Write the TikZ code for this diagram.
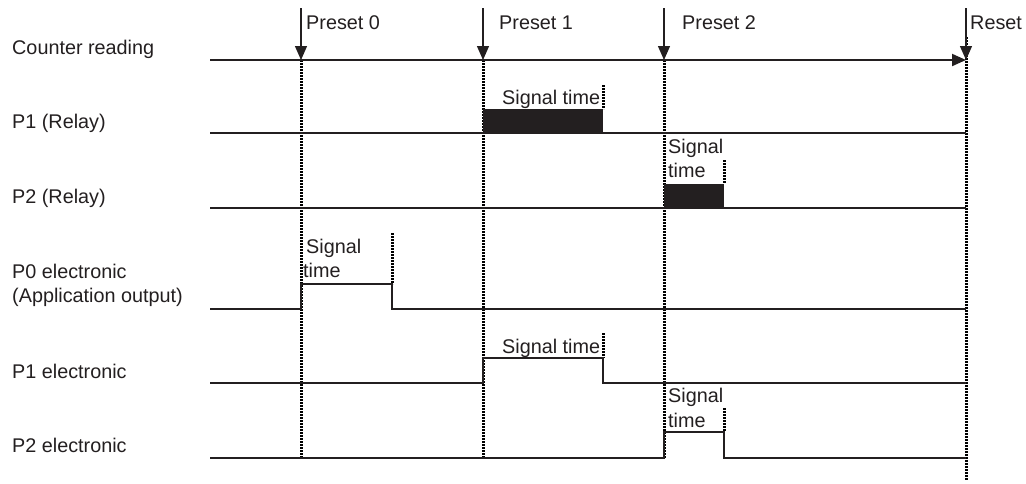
\documentclass[tikz,border=0pt]{standalone}
\usepackage{fontspec}
\setmainfont{Liberation Sans}
\usetikzlibrary{arrows.meta,calc}

\definecolor{ink}{RGB}{35,31,32}

\tikzset{
  lbl/.style={anchor=base west,inner sep=0pt,text=ink,font=\fontsize{19.8}{24}\selectfont},
  sigline/.style={draw=ink,line width=2pt,line join=miter},
  marker/.style={draw=black,line width=3pt,dash pattern=on 2pt off 1pt},
  presetarrow/.style={draw=ink,line width=1.3pt,-{Triangle[width=12pt,length=14pt]}},
}

\begin{document}
\begin{tikzpicture}[x=1pt,y=-1pt]
\useasboundingbox (0,0) rectangle (1026,483);

% time marks on the counter line
\coordinate (T0) at (301,60);
\coordinate (T1) at (483,60);
\coordinate (T2) at (664,60);
\coordinate (TR) at (966,60);
\coordinate (C0) at (210,60);

% dotted time marks
\foreach \t in {T0,T1,T2}
  \draw[marker] (\t) -- ++(0,398);
\draw[marker] ($(TR)+(0,-23)$) -- ++(0,443);

% short dotted ends of the signal times
\draw[marker] (603,85) -- (603,109);
\draw[marker] (724,160) -- (724,184);
\draw[marker] (392,233) -- (392,284);
\draw[marker] (603,333) -- (603,358);
\draw[marker] (724,408) -- (724,432);

% counter reading
\draw[sigline,-{Triangle[width=12pt,length=14pt]}] (C0) -- (TR);

% preset arrows
\foreach \t in {T0,T1,T2,TR}
  \draw[presetarrow] ($(\t)+(0,-52)$) -- (\t);

% P1 (Relay)
\draw[sigline] (210,133) -- (966,133);
\fill[ink] (483,109) rectangle (603,133);

% P2 (Relay)
\draw[sigline] (210,208) -- (966,208);
\fill[ink] (664,184) rectangle (724,208);

% P0 electronic
\draw[sigline] (210,309) -- (301,309) -- (301,284) -- (392,284) -- (392,309) -- (966,309);

% P1 electronic
\draw[sigline] (210,383) -- (483,383) -- (483,358) -- (603,358) -- (603,383) -- (966,383);

% P2 electronic
\draw[sigline] (210,458) -- (664,458) -- (664,432) -- (724,432) -- (724,458) -- (966,458);

% row labels
\node[lbl] (counter) at (12,54) {Counter reading};
\node[lbl] (p1relay) at (12,128) {P1 (Relay)};
\node[lbl] (p2relay) at (12,203) {P2 (Relay)};
\node[lbl] (p0elec) at (12,278) {P0 electronic};
\node[lbl] (p0app) at (12,302) {(Application output)};
\node[lbl] (p1elec) at (12,378) {P1 electronic};
\node[lbl] (p2elec) at (12,452) {P2 electronic};

% preset labels
\node[lbl] (preset0) at (306,29) {Preset 0};
\node[lbl] (preset1) at (499,29) {Preset 1};
\node[lbl] (preset2) at (682,29) {Preset 2};
\node[lbl] (reset) at (970,29) {Reset};

% signal time labels
\node[lbl] (st1) at (502,104) {Signal time};
\node[lbl] (st2a) at (668,153) {Signal};
\node[lbl] (st2b) at (668,177) {time};
\node[lbl] (st0a) at (306,253) {Signal};
\node[lbl] (st0b) at (303,277) {time};
\node[lbl] (st3) at (502,353) {Signal time};
\node[lbl] (st4a) at (668,402) {Signal};
\node[lbl] (st4b) at (668,427) {time};

\end{tikzpicture}
\end{document}
